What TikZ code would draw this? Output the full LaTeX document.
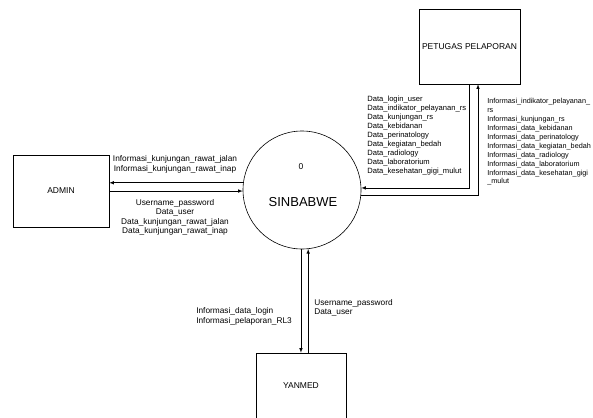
\documentclass[tikz,border=0pt]{standalone}
\usepackage{fontspec}
\setmainfont{Liberation Sans}
\usetikzlibrary{arrows,calc,positioning}

\newcommand{\flowfont}{\fontsize{8.3}{9.5}\selectfont}
\newcommand{\smallflowfont}{\fontsize{7.6}{8.9}\selectfont}
\newcommand{\tinyflowfont}{\fontsize{7.25}{8.9}\selectfont}

\begin{document}
\begin{tikzpicture}[x=1pt,y=-1pt,>=latex]
	\tikzstyle{every path}=[line width=0.6pt]
	\tikzstyle{entity}=[draw,rectangle,inner sep=0pt,font=\fontsize{8.5}{10}\selectfont]
	\tikzstyle{process}=[draw,circle,minimum size=118pt,inner sep=0pt]
	\tikzstyle{flowtext}=[inner sep=0pt,align=left,font=\flowfont]
	\tikzstyle{smallflowtext}=[inner sep=0pt,align=left,font=\smallflowfont,anchor=west]

	\useasboundingbox (0,0) rectangle (593,417);

	\node[process] (sinbabwe) at (302,190) {};
	\node[entity,minimum width=96pt,minimum height=72pt] (admin) at (61,191) {ADMIN};
	\node[entity,minimum width=101pt,minimum height=75pt] (petugas) at (469.5,46.5) {PETUGAS PELAPORAN};
	\node[entity,minimum width=90pt,minimum height=66pt] (yanmed) at (301,386) {YANMED};
	%
	% Annotations
	\path (sinbabwe.center)
	  ++(-1,-23) node[font=\fontsize{8.5}{10}\selectfont] (zero) {0}
	  (sinbabwe.center) ++(1,12) node[font=\fontsize{13}{15}\selectfont] (name) {SINBABWE};
	%

	\coordinate (petugas-in) at ($(petugas.south)+(8.5,0)$);

	% ADMIN
	\draw[->] (sinbabwe.173) -- (sinbabwe.173 -| admin.east);
	\draw[->] (admin.east |- sinbabwe.181) -- (sinbabwe.181);
	\node[flowtext,align=center] (admin-out) at (175,164.5) {Informasi\_kunjungan\_rawat\_jalan\\Informasi\_kunjungan\_rawat\_inap};
	\node[flowtext,align=center] (admin-in) at (175,217.5) {Username\_password\\Data\_user\\Data\_kunjungan\_rawat\_jalan\\Data\_kunjungan\_rawat\_inap};

	% PETUGAS PELAPORAN
	\draw[->] (petugas.south) |- (sinbabwe.2);
	\draw[->] (sinbabwe.355) -| (petugas-in);
	\node[smallflowtext] (petugas-data) at (367,135.5) {Data\_login\_user\\Data\_indikator\_pelayanan\_rs\\Data\_kunjungan\_rs\\Data\_kebidanan\\Data\_perinatology\\Data\_kegiatan\_bedah\\Data\_radiology\\Data\_laboratorium\\Data\_kesehatan\_gigi\_mulut};
	\node[smallflowtext,font=\tinyflowfont] (petugas-info) at (487,142) {Informasi\_indikator\_pelayanan\_\\rs\\Informasi\_kunjungan\_rs\\Informasi\_data\_kebidanan\\Informasi\_data\_perinatology\\Informasi\_data\_kegiatan\_bedah\\Informasi\_data\_radiology\\Informasi\_data\_laboratorium\\Informasi\_data\_kesehatan\_gigi\\\_mulut};

	% YANMED
	\draw[->] (sinbabwe.269) -- (sinbabwe.269 |- yanmed.north);
	\draw[->] (yanmed.north -| sinbabwe.276) -- (sinbabwe.276);
	\node[flowtext,anchor=west] (yanmed-out) at (196,316.5) {Informasi\_data\_login\\Informasi\_pelaporan\_RL3};
	\node[flowtext,anchor=west] (yanmed-in) at (314,308) {Username\_password\\Data\_user};
\end{tikzpicture}
\end{document}
